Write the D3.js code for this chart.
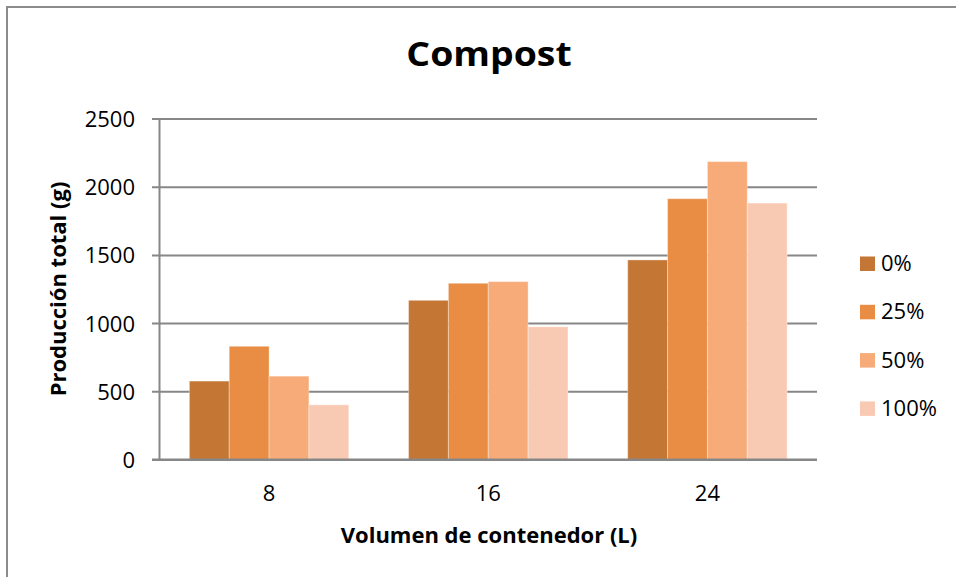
<!DOCTYPE html>
<html>
<head>
<meta charset="utf-8">
<script src="https://cdn.jsdelivr.net/npm/d3@7"></script>
<style>
  body { margin: 0; background: #fff; }
  svg { display: block; }
  text { font-family: "Open Sans", Lato, sans-serif; fill: #000; }
</style>
</head>
<body>
<svg id="chart" width="956" height="577"></svg>
<script>
// Container volume categories (L)
const categories = ["8", "16", "24"];
// Compost proportion series
const seriesNames = ["0%", "25%", "50%", "100%"];
// Total production (g) per series, one value per container volume
const serie0   = [575, 1167, 1463];
const serie25  = [830, 1292, 1912];
const serie50  = [611, 1304, 2184];
const serie100 = [401, 973, 1880];
const yTicks = [0, 500, 1000, 1500, 2000, 2500];
const colors = ["#C47735", "#E88D43", "#F7AB79", "#F9CAB3"];

const seriesValues = [serie0, serie25, serie50, serie100];
const rows = categories.map((c, i) => ({
  cat: c,
  vals: seriesNames.map((s, j) => ({ key: s, value: seriesValues[j][i], color: colors[j] }))
}));

const FONT = "'Open Sans', Lato, sans-serif";
const svg = d3.select("#chart");

// Chart frame
svg.append("rect")
  .attr("x", 7).attr("y", 7)
  .attr("width", 970).attr("height", 590)
  .attr("fill", "#fff")
  .attr("stroke", "#8c8c8c")
  .attr("stroke-width", 2);

const g = svg.append("g");

const plotLeft = 159.5, plotRight = 817, plotTop = 118.5, plotBottom = 459.5;
const tickLeft = 152;

const x0 = d3.scaleBand().domain(categories).range([plotLeft, plotRight]).padding(0);
const x1 = d3.scaleBand().domain(seriesNames).range([0, x0.bandwidth()])
  .paddingInner(0).paddingOuter(0.75);
const y = d3.scaleLinear().domain([0, 2500]).range([plotBottom, plotTop]);

// Horizontal gridlines + value labels
const yAxis = d3.axisLeft(y)
  .tickValues(yTicks)
  .tickFormat(d3.format("d"))
  .tickSizeInner(plotRight - tickLeft)
  .tickSizeOuter(0)
  .tickPadding(tickLeft - 135);

const yg = g.append("g")
  .attr("transform", `translate(${plotRight},0)`)
  .call(yAxis);
yg.select(".domain").remove();
yg.selectAll(".tick line")
  .attr("stroke", "#878787")
  .attr("stroke-width", 2);
yg.selectAll(".tick text")
  .attr("font-size", 22)
  .attr("font-family", FONT)
  .attr("fill", "#000")
  .attr("dy", "0.36em");

// Bars
const groups = g.append("g").selectAll("g")
  .data(rows)
  .join("g")
  .attr("transform", d => `translate(${x0(d.cat)},0)`);

groups.selectAll("rect")
  .data(d => d.vals)
  .join("rect")
  .attr("x", d => x1(d.key))
  .attr("width", x1.bandwidth())
  .attr("y", d => y(d.value))
  .attr("height", d => y(0) - y(d.value))
  .attr("fill", d => d.color)
  .attr("stroke", "#ffffff")
  .attr("stroke-opacity", 0.35)
  .attr("stroke-width", 1);

// Vertical axis line
g.append("line")
  .attr("x1", plotLeft).attr("x2", plotLeft)
  .attr("y1", plotTop).attr("y2", plotBottom)
  .attr("stroke", "#878787")
  .attr("stroke-width", 2);

// Horizontal axis line
g.append("line")
  .attr("x1", tickLeft).attr("x2", plotRight)
  .attr("y1", plotBottom).attr("y2", plotBottom)
  .attr("stroke", "#878787")
  .attr("stroke-width", 2);

// Category labels
const xAxis = d3.axisBottom(x0).tickSize(0).tickPadding(26);
const xg = g.append("g")
  .attr("transform", `translate(0,${plotBottom})`)
  .call(xAxis);
xg.select(".domain").remove();
xg.selectAll(".tick text")
  .attr("font-size", 22)
  .attr("font-family", FONT)
  .attr("fill", "#000");

// Title
g.append("text")
  .attr("transform", "translate(489,66) scale(1.1,1)")
  .attr("text-anchor", "middle")
  .attr("font-size", 34)
  .attr("font-weight", "bold")
  .text("Compost");

// Axis titles
g.append("text")
  .attr("x", 489).attr("y", 543)
  .attr("text-anchor", "middle")
  .attr("font-size", 22)
  .attr("font-weight", "bold")
  .text("Volumen de contenedor (L)");

g.append("text")
  .attr("transform", `translate(66,${(plotTop + plotBottom) / 2}) rotate(-90)`)
  .attr("text-anchor", "middle")
  .attr("font-size", 22)
  .attr("font-weight", "bold")
  .text("Producción total (g)");

// Legend
const legend = g.append("g").selectAll("g")
  .data(seriesNames.map((s, i) => ({ key: s, color: colors[i] })))
  .join("g")
  .attr("transform", (d, i) => `translate(0,${271 + i * 48.3})`);

legend.append("rect")
  .attr("x", 860).attr("y", -14.5)
  .attr("width", 15).attr("height", 14.5)
  .attr("fill", d => d.color);

legend.append("text")
  .attr("x", 881).attr("y", 0)
  .attr("font-size", 22)
  .text(d => d.key);
</script>
</body>
</html>
